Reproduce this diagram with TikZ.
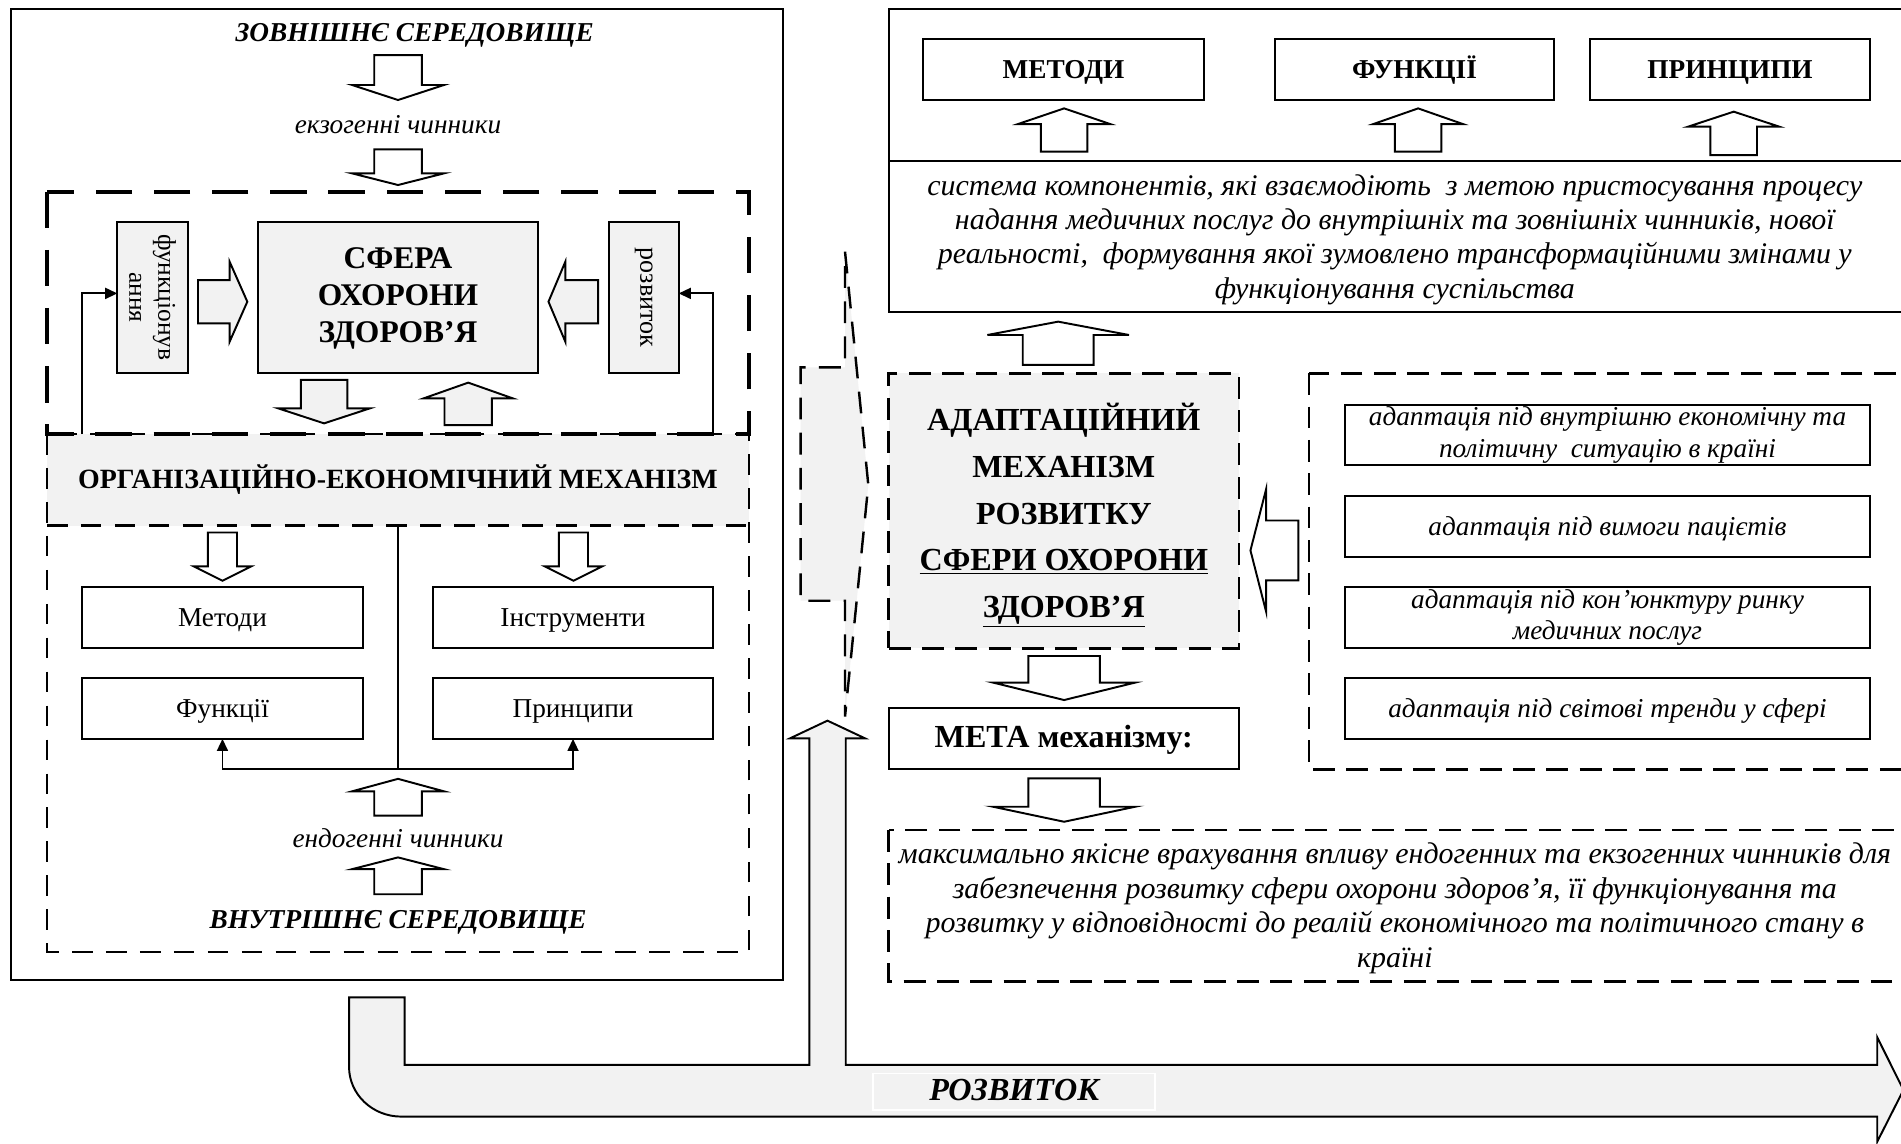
\documentclass[tikz,border=0pt]{standalone}
\usepackage{fontspec}
\setmainfont{Liberation Serif}
\usetikzlibrary{arrows.meta}
\definecolor{lgrey}{HTML}{F2F2F2}
% vertical block arrow: #1 opts, #2 cx, #3 y tail, #4 y head base, #5 y tip, #6 shaft half width, #7 head half width
\newcommand\myvarrow[7]{\draw[#1] ({#2-#6},#3) -- ({#2-#6},#4) -- ({#2-#7},#4) -- (#2,#5) -- ({#2+#7},#4) -- ({#2+#6},#4) -- ({#2+#6},#3) -- cycle;}
% horizontal block arrow: #1 opts, #2 cy, #3 x tail, #4 x head base, #5 x tip, #6 shaft half, #7 head half
\newcommand\myharrow[7]{\draw[#1] (#3,{#2-#6}) -- (#4,{#2-#6}) -- (#4,{#2-#7}) -- (#5,#2) -- (#4,{#2+#7}) -- (#4,{#2+#6}) -- (#3,{#2+#6}) -- cycle;}
\begin{document}
\begin{tikzpicture}[x=1pt,y=-1pt,
  sbox/.style={draw, line width=1.6pt, inner sep=0pt, outer sep=0pt},
  gbox/.style={sbox, fill=lgrey},
  one/.style={text height=15pt, text depth=0pt},
  txt/.style={font=\fontsize{22.5}{28}\selectfont, align=center},
  bft/.style={font=\fontsize{22.5}{28}\selectfont\bfseries, align=center},
  itt/.style={font=\fontsize{22.5}{28}\selectfont\itshape, align=center},
  bit/.style={font=\fontsize{22.5}{28}\selectfont\bfseries\itshape, align=center},
  thickdash/.style={line width=3.4pt, dash pattern=on 30pt off 18pt},
  thindash/.style={line width=1.8pt, dash pattern=on 17pt off 11pt},
  rdash/.style={line width=2pt, dash pattern=on 18pt off 9.5pt},
  harrow/.style={draw, line width=1.6pt, fill=white, line join=miter},
  garrow/.style={harrow, fill=lgrey},
  conn/.style={line width=1.6pt, -{Triangle[length=10pt,width=9pt]}}]
\clip (0,0) rectangle (1568,943);
\fill[white] (0,0) rectangle (1568,943);

% ---------- big bottom arrow (РОЗВИТОК) ----------
\draw[line width=1.6pt, fill=lgrey, line join=miter]
  (287.9,822.6) -- (333.8,822.6) -- (333.8,878.4) -- (667.6,878.4) -- (667.6,609)
  -- (651.6,609) -- (682.5,594.4) -- (713.5,609) -- (697.6,609) -- (697.6,878.4)
  -- (1548.4,878.4) -- (1548.4,855.6) -- (1570,899) -- (1548.4,941.7) -- (1548.4,921)
  -- (331,921) .. controls (307.2,921) and (287.9,902.6) .. (287.9,880) -- cycle;
\node[draw=white, line width=1.5pt, fill=lgrey, minimum width=233pt, minimum height=30.2pt, inner sep=0pt, one, font=\fontsize{26.5}{30}\selectfont\bfseries\itshape] (devlabel) at (836.5,900.5) {РОЗВИТОК};

% ---------- dashed grey pointer in the middle ----------
\draw[line width=2pt, dash pattern=on 18pt off 11pt, fill=lgrey]
  (697,207.6) -- (716.2,400) -- (697,591) -- (697,495.5) -- (660.4,495.5) -- (660.4,303) -- (697,303) -- cycle;

% ---------- left part ----------
\draw[line width=1.6pt] (9.3,7.7) rectangle (646,808);
\node[bit] (extenv) at (342,29) {ЗОВНІШНЄ СЕРЕДОВИЩЕ};
\myvarrow{harrow}{328.3}{45.4}{70.1}{82.5}{19.6}{37.9}
\node[itt] (exo) at (328.3,102.5) {екзогенні чинники};
\myvarrow{harrow}{328.3}{123.2}{143}{152.6}{19.6}{37.9}

\node[fill=lgrey, minimum width=579.1pt, minimum height=75.5pt, inner sep=0pt, outer sep=0pt, one, font=\fontsize{23}{28}\selectfont\bfseries] (orgband) at (328.25,395.75) {ОРГАНІЗАЦІЙНО-ЕКОНОМІЧНИЙ МЕХАНІЗМ};
\draw[thindash] (38.7,358) rectangle (617.8,785.3);
\draw[thindash] (38.7,433.5) -- (617.8,433.5);
\draw[thickdash] (38.7,158) rectangle (617.8,358);

\node[gbox, minimum width=58.1pt, minimum height=125.2pt] (func) at (125.85,245.4) {};
\node[rotate=-90, align=center, font=\fontsize{21}{24}\selectfont] (functxt) at (func.center) {функціонув\\ання};
\node[gbox, minimum width=231.5pt, minimum height=125.2pt] (sphere) at (328.25,245.4) {};
\node[align=center, font=\fontsize{26}{30.5}\selectfont\bfseries] (spheretxt) at (328.25,246.5) {СФЕРА\\ОХОРОНИ\\ЗДОРОВ’Я};
\node[gbox, minimum width=57.8pt, minimum height=125.2pt] (rozv) at (530.9,245.4) {};
\node[rotate=-90, font=\fontsize{21.5}{24}\selectfont] (rozvtxt) at (rozv.center) {розвиток};

\myharrow{garrow}{248.85}{163.3}{189.4}{204}{17.85}{33}
\myharrow{garrow}{248.85}{493.3}{466.3}{452.4}{17.85}{33}
\myvarrow{garrow}{267.3}{313.4}{336.8}{349.2}{19.15}{37.85}
\myvarrow{garrow}{386.2}{350.6}{328.6}{315.6}{19.55}{36.85}

\coordinate (fbl) at (67.3,358);
\coordinate (fbr) at (588.4,358);
\draw[conn] (fbl) |- ([yshift=3.4pt]func.west);
\draw[conn] (fbr) |- ([yshift=3.4pt]rozv.east);

\myvarrow{harrow}{183.5}{439.2}{467.2}{479}{12}{23.6}
\myvarrow{harrow}{473}{439.2}{467.2}{479}{12}{23.6}
\node[sbox, txt, one, minimum width=232.4pt, minimum height=50.3pt] (metody) at (183.5,509.15) {Методи};
\node[sbox, txt, one, minimum width=231.5pt, minimum height=50.3pt] (instr) at (472.65,509.15) {Інструменти};
\node[sbox, txt, one, minimum width=232.4pt, minimum height=50.4pt] (funk) at (183.5,584.2) {Функції};
\node[sbox, txt, one, minimum width=231.5pt, minimum height=50.4pt] (princ) at (472.65,584.2) {Принципи};
\coordinate (junc) at (328.25,634.5);
\draw[line width=1.6pt] (orgband.south) -- (junc);
\draw[conn] (junc) -| (funk.south);
\draw[conn] (junc) -| (princ.south);
\myvarrow{harrow}{328.3}{672.8}{652.7}{642.4}{19.6}{37.9}
\node[itt] (endo) at (328.3,691) {ендогенні чинники};
\myvarrow{harrow}{328.3}{737.6}{716.9}{707.2}{19.6}{37.9}
\node[bit] (intenv) at (328.3,761) {ВНУТРІШНЄ СЕРЕДОВИЩЕ};

% ---------- right part ----------
\draw[line width=1.6pt] (733,7.7) rectangle (1600,257.6);
\draw[line width=1.6pt] (733,132.5) -- (1600,132.5);
\node[sbox, bft, one, minimum width=231.7pt, minimum height=50.3pt] (rmet) at (877.15,57.35) {МЕТОДИ};
\node[sbox, bft, one, minimum width=230.6pt, minimum height=50.3pt] (rfun) at (1166.7,57.35) {ФУНКЦІЇ};
\node[sbox, bft, one, minimum width=231.2pt, minimum height=50.3pt] (rpri) at (1427,57.35) {ПРИНЦИПИ};
\myvarrow{harrow}{877.7}{125.1}{102.3}{89.4}{19.2}{38}
\myvarrow{harrow}{1169.7}{125.1}{102.3}{89.4}{19.2}{36.9}
\myvarrow{harrow}{1430}{127.9}{104.5}{92.1}{19.2}{37.7}
\node[align=center, font=\fontsize{24.7}{28.3}\selectfont\itshape] (system) at (1150.5,197.5) {система компонентів, які взаємодіють\ \ з метою пристосування процесу\\надання медичних послуг до внутрішніх та зовнішніх чинників, нової\\реальності,\ \ формування якої зумовлено трансформаційними змінами у\\функціонування суспільства};
\myvarrow{harrow}{872.8}{301}{276.3}{265.3}{29.2}{58.4}

\node[draw, rdash, fill=lgrey, minimum width=288.9pt, minimum height=226.9pt, inner sep=0pt, outer sep=0pt] (adapt) at (877.45,421.35) {};
\node[align=center, font=\fontsize{26.5}{38.5}\selectfont\bfseries] (adapttxt) at (877.45,425) {АДАПТАЦІЙНИЙ\\МЕХАНІЗМ\\РОЗВИТКУ\\\underline{СФЕРИ ОХОРОНИ}\\\underline{ЗДОРОВ’Я}};
\myharrow{harrow}{454}{1070.9}{1044.3}{1031.4}{24.7}{50.45}
\draw[rdash] (1079.7,307.9) rectangle (1600,634.6);
\node[sbox, align=center, font=\fontsize{22.5}{26}\selectfont\itshape, minimum width=433.4pt, minimum height=49.6pt] (ad1) at (1325.9,358.8) {адаптація під внутрішню економічну та\\політичну\ \ ситуацію в країні};
\node[sbox, itt, one, minimum width=433.4pt, minimum height=50.3pt] (ad2) at (1325.9,434.05) {адаптація під вимоги пацієтів};
\node[sbox, align=center, font=\fontsize{22.5}{26}\selectfont\itshape, minimum width=433.4pt, minimum height=50.9pt] (ad3) at (1325.9,509.35) {адаптація під кон’юнктуру ринку\\медичних послуг};
\node[sbox, itt, one, minimum width=433.4pt, minimum height=50.3pt] (ad4) at (1325.9,584.65) {адаптація під світові тренди у сфері};

\myvarrow{harrow}{877.7}{541.1}{563}{577.4}{29.5}{58.65}
\node[sbox, one, minimum width=288.9pt, minimum height=50.3pt, font=\fontsize{26.5}{30}\selectfont\bfseries] (goal) at (877.45,609.45) {МЕТА механізму:};
\myvarrow{harrow}{877.7}{642}{665.4}{677.8}{29.5}{58.65}
\draw[rdash] (733,684.6) rectangle (1600,809.7);
\node[align=center, font=\fontsize{24.7}{28.5}\selectfont\itshape] (goaltxt) at (1150.5,749) {максимально якісне врахування впливу ендогенних та екзогенних чинників для\\забезпечення розвитку сфери охорони здоров’я, її функціонування та\\розвитку у відповідності до реалій економічного та політичного стану в\\країні};
\end{tikzpicture}
\end{document}
